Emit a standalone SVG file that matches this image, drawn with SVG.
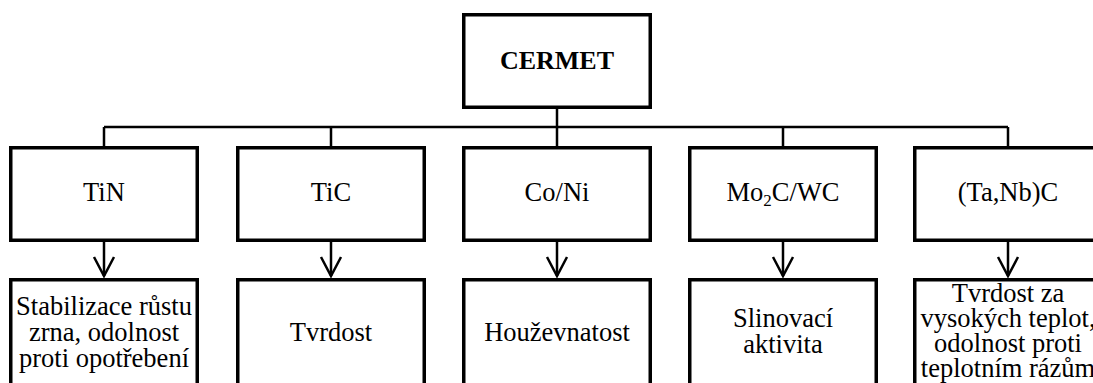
<svg xmlns="http://www.w3.org/2000/svg" width="1093" height="383" viewBox="0 0 1093 383">
<style>
.box{fill:#fff;stroke:#000;stroke-width:3.5}
.con{fill:none;stroke:#000;stroke-width:2.5}
.t{font-family:"Liberation Serif","Times New Roman",serif;font-size:26.5px;fill:#000;text-anchor:middle}
.b{font-weight:bold;font-size:26px}
</style>
<defs>
<marker id="arr" markerUnits="userSpaceOnUse" viewBox="-22 -12 24 24" refX="0" refY="0" markerWidth="24" markerHeight="24" orient="auto">
<path d="M-19,-10 L0,0 L-19,10" fill="none" stroke="#000" stroke-width="2.5" stroke-linejoin="miter"/>
</marker>
</defs>
<rect width="1093" height="383" fill="#fff"/>
<g id="connectors">
<path class="con" d="M557,109 V146 M104,127 H1008 M104,127 V146 M331,127 V146 M783,127 V146 M1008,127 V146"/>
<path class="con" d="M104,242 V276" marker-end="url(#arr)"/>
<path class="con" d="M331,242 V276" marker-end="url(#arr)"/>
<path class="con" d="M557,242 V276" marker-end="url(#arr)"/>
<path class="con" d="M783,242 V276" marker-end="url(#arr)"/>
<path class="con" d="M1008,242 V276" marker-end="url(#arr)"/>
</g>
<g id="cermet">
<rect class="box" x="463.75" y="14.75" width="186.5" height="92.5"/>
<text class="t b" x="557" y="69">CERMET</text>
</g>
<g id="tin">
<rect class="box" x="10.75" y="147.75" width="186.5" height="92.5"/>
<text class="t" x="104" y="201">TiN</text>
</g>
<g id="tic">
<rect class="box" x="237.75" y="147.75" width="186.5" height="92.5"/>
<text class="t" x="331" y="201">TiC</text>
</g>
<g id="coni">
<rect class="box" x="463.75" y="147.75" width="186.5" height="92.5"/>
<text class="t" x="557" y="201">Co/Ni</text>
</g>
<g id="mo2c">
<rect class="box" x="689.75" y="147.75" width="186.5" height="92.5"/>
<text class="t" x="783" y="201">Mo<tspan font-size="17" dy="5">2</tspan><tspan dy="-5">C/WC</tspan></text>
</g>
<g id="tanb">
<rect class="box" x="914.75" y="147.75" width="186.5" height="92.5"/>
<text class="t" x="1008" y="201">(Ta,Nb)C</text>
</g>
<g id="tin-prop">
<rect class="box" x="10.75" y="279.75" width="186.5" height="120"/>
<text class="t" x="104" y="315">Stabilizace růstu</text>
<text class="t" x="104" y="341">zrna, odolnost</text>
<text class="t" x="104" y="367">proti opotřebení</text>
</g>
<g id="tic-prop">
<rect class="box" x="237.75" y="279.75" width="186.5" height="120"/>
<text class="t" x="331" y="341">Tvrdost</text>
</g>
<g id="coni-prop">
<rect class="box" x="463.75" y="279.75" width="186.5" height="120"/>
<text class="t" x="557" y="341">Houževnatost</text>
</g>
<g id="mo2c-prop">
<rect class="box" x="689.75" y="279.75" width="186.5" height="120"/>
<text class="t" x="783" y="327">Slinovací</text>
<text class="t" x="783" y="353">aktivita</text>
</g>
<g id="tanb-prop">
<rect class="box" x="914.75" y="279.75" width="186.5" height="120"/>
<text class="t" x="1008" y="302">Tvrdost za</text>
<text class="t" x="1008" y="327">vysokých teplot,</text>
<text class="t" x="1008" y="352">odolnost proti</text>
<text class="t" x="1008" y="377">teplotním rázům</text>
</g>
</svg>
